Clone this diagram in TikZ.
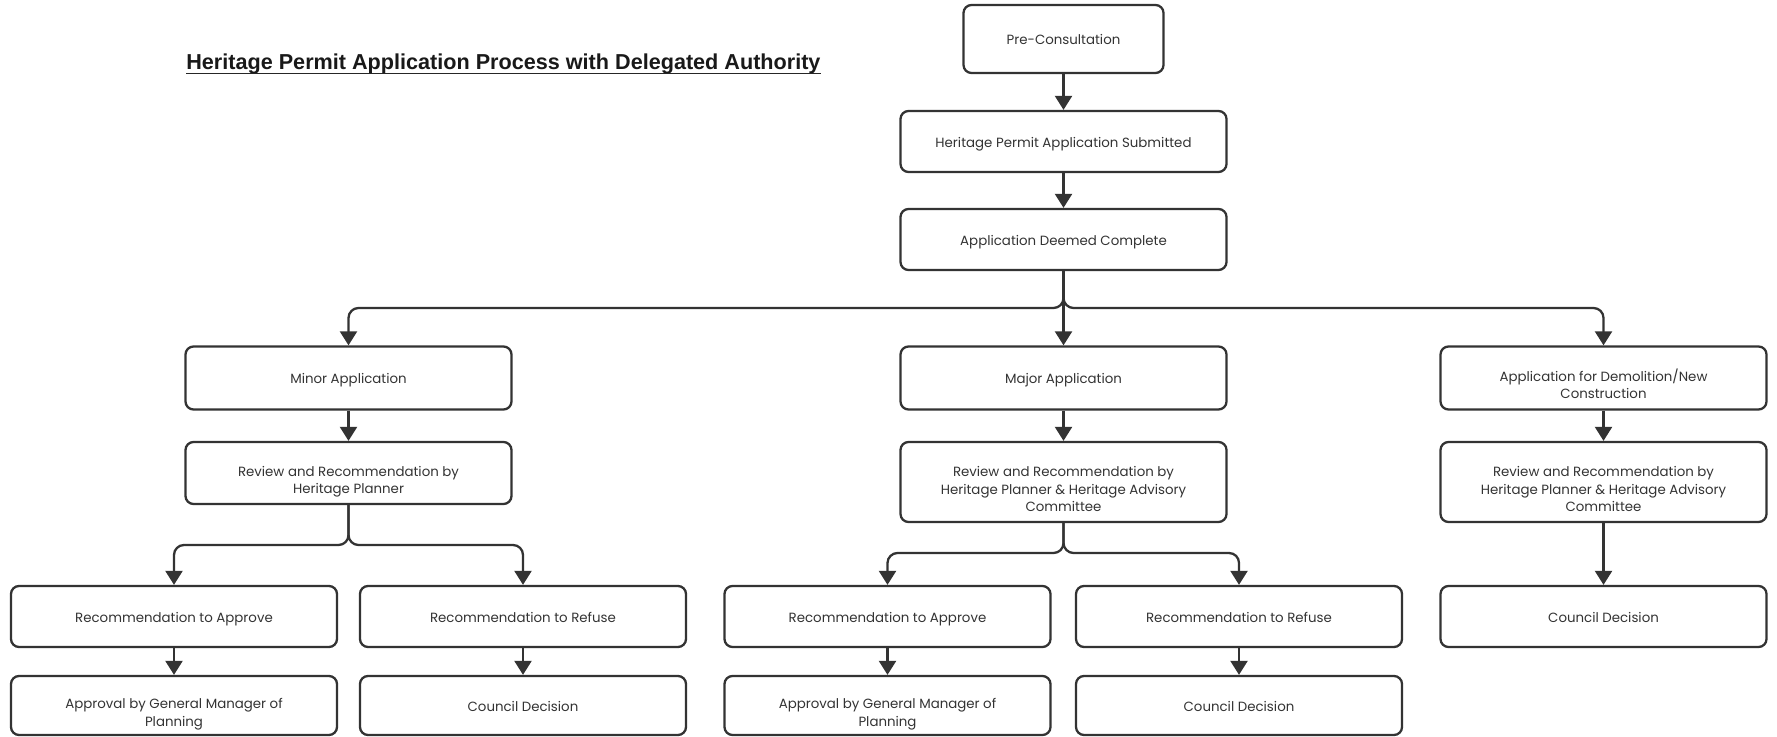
\documentclass[tikz,border=0pt]{standalone}
\usepackage{fontspec}
\setmainfont{Poppins}
\newfontfamily\titlefont{Liberation Sans}
\usetikzlibrary{arrows.meta}
\definecolor{boxline}{HTML}{333333}
\definecolor{boxtext}{HTML}{333333}

\begin{document}
\begin{tikzpicture}[stepbox/.style = {rectangle, draw=boxline, line width=1.3pt, rounded corners=0.16cm, minimum width=6.52cm, inner sep=0pt, align=center, text=boxtext,
                                      execute at begin node={\rule{0pt}{0.33cm}}, execute at end node=\strut},
                    twoline/.style = {stepbox, text height=0.94cm},
                    threeline/.style = {stepbox, text height=1.29cm},
                    flow/.style = {draw=boxline, line width=1.3pt, -{Triangle[width=0.34cm, length=0.28cm]}},
                    font=\fontsize{7.6pt}{10pt}\selectfont]
  \useasboundingbox (0, 0) rectangle (35.54, 14.72);

  % Title.
  \node at (3.72, 13.32) [anchor=base west, inner sep=0pt, name=Title, text=black!90,
                          font=\titlefont\bfseries\fontsize{12.3pt}{14}\selectfont]
        {Heritage Permit Application Process with Delegated Authority};
  \draw [line width=0.9pt, black!85] ([yshift=-0.07cm]Title.base west) -- ([yshift=-0.07cm]Title.base east);

  % Common steps.
  \node at (21.27, 13.94) [stepbox, minimum width=4cm, minimum height=1.36cm, name=Pre] {Pre-Consultation};
  \node at (21.27, 11.89) [stepbox, minimum height=1.22cm, name=Submitted] {Heritage Permit Application Submitted};
  \node at (21.27, 9.93) [stepbox, minimum height=1.22cm, name=Complete] {Application Deemed Complete};

  % Application types.
  \node at (6.97, 7.16) [stepbox, minimum height=1.26cm, name=Minor] {Minor Application};
  \node at (21.27, 7.16) [stepbox, minimum height=1.26cm, name=Major] {Major Application};
  \node at (32.07, 7.16) [twoline, minimum height=1.26cm, name=Demolition] {Application for Demolition/New\\Construction};

  % Reviews.
  \node at (6.97, 5.26) [twoline, minimum height=1.24cm, name=ReviewMinor] {Review and Recommendation by\\Heritage Planner};
  \node at (21.27, 5.08) [threeline, minimum height=1.6cm, name=ReviewMajor] {Review and Recommendation by\\Heritage Planner \& Heritage Advisory\\Committee};
  \node at (32.07, 5.08) [threeline, minimum height=1.6cm, name=ReviewDemolition] {Review and Recommendation by\\Heritage Planner \& Heritage Advisory\\Committee};

  % Recommendations.
  \node at (3.48, 2.39) [stepbox, minimum height=1.22cm, name=ApproveMinor] {Recommendation to Approve};
  \node at (10.46, 2.39) [stepbox, minimum height=1.22cm, name=RefuseMinor] {Recommendation to Refuse};
  \node at (17.75, 2.39) [stepbox, minimum height=1.22cm, name=ApproveMajor] {Recommendation to Approve};
  \node at (24.78, 2.39) [stepbox, minimum height=1.22cm, name=RefuseMajor] {Recommendation to Refuse};
  \node at (32.07, 2.39) [stepbox, minimum height=1.22cm, name=CouncilDemolition] {Council Decision};

  % Decisions.
  \node at (3.48, 0.61) [twoline, minimum height=1.18cm, name=ManagerMinor] {Approval by General Manager of\\Planning};
  \node at (10.46, 0.61) [stepbox, minimum height=1.18cm, name=CouncilMinor] {Council Decision};
  \node at (17.75, 0.61) [twoline, minimum height=1.18cm, name=ManagerMajor] {Approval by General Manager of\\Planning};
  \node at (24.78, 0.61) [stepbox, minimum height=1.18cm, name=CouncilMajor] {Council Decision};

  % Split points.
  \coordinate (SplitTop) at (21.27, 8.56);
  \coordinate (SplitMinor) at (6.97, 3.82);
  \coordinate (SplitMajor) at (21.27, 3.66);

  \draw [flow] (Pre) to (Submitted);
  \draw [flow] (Submitted) to (Complete);
  \draw [flow] (Complete) to (Major);
  \draw [flow, rounded corners=0.2cm] (Complete.south)
             |- (Minor.north |- SplitTop)
             -- (Minor.north);
  \draw [flow, rounded corners=0.2cm] (Complete.south)
             |- (Demolition.north |- SplitTop)
             -- (Demolition.north);

  % Minor branch.
  \draw [flow] (Minor) to (ReviewMinor);
  \draw [flow, rounded corners=0.2cm] (ReviewMinor.south)
             |- (ApproveMinor.north |- SplitMinor)
             -- (ApproveMinor.north);
  \draw [flow, rounded corners=0.2cm] (ReviewMinor.south)
             |- (RefuseMinor.north |- SplitMinor)
             -- (RefuseMinor.north);
  \draw [flow] (ApproveMinor) to (ManagerMinor);
  \draw [flow] (RefuseMinor) to (CouncilMinor);

  % Major branch.
  \draw [flow] (Major) to (ReviewMajor);
  \draw [flow, rounded corners=0.2cm] (ReviewMajor.south)
             |- (ApproveMajor.north |- SplitMajor)
             -- (ApproveMajor.north);
  \draw [flow, rounded corners=0.2cm] (ReviewMajor.south)
             |- (RefuseMajor.north |- SplitMajor)
             -- (RefuseMajor.north);
  \draw [flow] (ApproveMajor) to (ManagerMajor);
  \draw [flow] (RefuseMajor) to (CouncilMajor);

  % Demolition branch.
  \draw [flow] (Demolition) to (ReviewDemolition);
  \draw [flow] (ReviewDemolition) to (CouncilDemolition);
\end{tikzpicture}
\end{document}
